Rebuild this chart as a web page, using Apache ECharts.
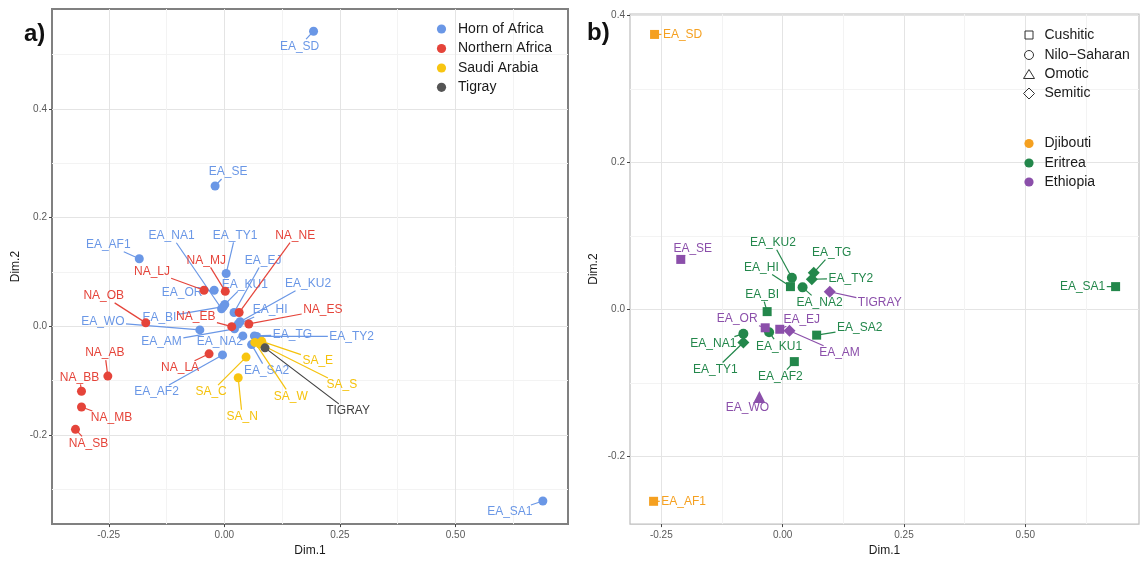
<!DOCTYPE html>
<html>
<head>
<meta charset="utf-8">
<script src="https://cdn.jsdelivr.net/npm/echarts@6/dist/echarts.min.js"></script>
<style>
html,body{margin:0;padding:0;background:#fff;}
#chart{width:1142px;height:562px;}
</style>
</head>
<body>
<div id="chart"></div>
<script>
// ---------------- DATA: panel a ----------------
const namesA = ['EA_SD','EA_SE','EA_AF1','EA_TY1','EA_NA1','EA_OR','EA_EJ','EA_KU1','EA_KU2','EA_BI','EA_HI','EA_WO','EA_AM','EA_NA2','EA_TG','EA_TY2','EA_SA2','EA_AF2','EA_SA1',
                'NA_NE','NA_MJ','NA_LJ','NA_OB','NA_EB','NA_ES','NA_AB','NA_LA','NA_BB','NA_MB','NA_SB',
                'SA_E','SA_S','SA_W','SA_C','SA_N',
                'TIGRAY'];
const groupA = ['Horn of Africa','Horn of Africa','Horn of Africa','Horn of Africa','Horn of Africa','Horn of Africa','Horn of Africa','Horn of Africa','Horn of Africa','Horn of Africa','Horn of Africa','Horn of Africa','Horn of Africa','Horn of Africa','Horn of Africa','Horn of Africa','Horn of Africa','Horn of Africa','Horn of Africa',
                'Northern Africa','Northern Africa','Northern Africa','Northern Africa','Northern Africa','Northern Africa','Northern Africa','Northern Africa','Northern Africa','Northern Africa','Northern Africa',
                'Saudi Arabia','Saudi Arabia','Saudi Arabia','Saudi Arabia','Saudi Arabia',
                'Tigray'];
const dim1A = [0.193,-0.020,-0.184,0.004,-0.006,-0.022,0.021,0.001,0.034,-0.002,0.030,-0.053,0.022,0.040,0.065,0.070,0.059,-0.004,0.689,
               0.032,0.002,-0.044,-0.170,0.016,0.053,-0.252,-0.033,-0.309,-0.309,-0.322,
               0.081,0.077,0.066,0.047,0.030,
               0.088];
const dim2A = [0.543,0.258,0.124,0.097,0.032,0.066,0.025,0.040,0.008,0.036,0.004,-0.007,-0.005,-0.018,-0.018,-0.019,-0.034,-0.053,-0.322,
               0.025,0.064,0.066,0.006,-0.001,0.004,-0.092,-0.051,-0.120,-0.149,-0.190,
               -0.028,-0.033,-0.030,-0.057,-0.095,
               -0.040];
const groupsA = ['Horn of Africa','Northern Africa','Saudi Arabia','Tigray'];

// ---------------- DATA: panel b ----------------
const namesB = ['EA_SD','EA_AF1','EA_SA1','EA_SE','EA_KU2','EA_HI','EA_TG','EA_TY2','EA_NA2','TIGRAY','EA_BI','EA_OR','EA_KU1','EA_EJ','EA_AM','EA_SA2','EA_NA1','EA_TY1','EA_AF2','EA_WO'];
const countryB = ['Djibouti','Djibouti','Eritrea','Ethiopia','Eritrea','Eritrea','Eritrea','Eritrea','Eritrea','Ethiopia','Eritrea','Ethiopia','Eritrea','Ethiopia','Ethiopia','Eritrea','Eritrea','Eritrea','Eritrea','Ethiopia'];
const familyB = ['Cushitic','Cushitic','Cushitic','Cushitic','Nilo−Saharan','Cushitic','Semitic','Semitic','Nilo−Saharan','Semitic','Cushitic','Cushitic','Nilo−Saharan','Cushitic','Semitic','Cushitic','Nilo−Saharan','Semitic','Cushitic','Omotic'];
const dim1B = [-0.264,-0.266,0.686,-0.210,0.019,0.016,0.064,0.060,0.041,0.097,-0.032,-0.036,-0.028,-0.006,0.014,0.070,-0.081,-0.081,0.024,-0.048];
const dim2B = [0.374,-0.261,0.031,0.068,0.043,0.031,0.050,0.041,0.030,0.024,-0.003,-0.025,-0.031,-0.027,-0.029,-0.035,-0.033,-0.045,-0.071,-0.119];
const familiesB = ['Cushitic','Nilo−Saharan','Omotic','Semitic'];
const countriesB = ['Djibouti','Eritrea','Ethiopia'];

// ---------------- tick values ----------------
const xMajor = [-0.25, 0, 0.25, 0.5];
const xMinor = [-0.125, 0.125, 0.375, 0.625];
const yMajorA = [-0.2, 0, 0.2, 0.4];
const yMinorA = [-0.3, -0.1, 0.1, 0.3, 0.5];
const yMajorB = [-0.2, 0, 0.2, 0.4];
const yMinorB = [-0.1, 0.1, 0.3];

// ---------------- layout / style ----------------
const colorA = {'Horn of Africa':'#6A97E6','Northern Africa':'#E5443A','Saudi Arabia':'#F8C511','Tigray':'#555555'};
const colorB = {'Djibouti':'#F5A020','Eritrea':'#23874B','Ethiopia':'#8B4FAA'};
const symbolB = {'Cushitic':'rect','Nilo−Saharan':'circle','Omotic':'triangle','Semitic':'diamond'};
const symSizeB = {'Cushitic':9,'Nilo−Saharan':10,'Omotic':12,'Semitic':12};
// label offsets (px) from point to label centre
const offA = {EA_SD:[-14,15],EA_SE:[13,-14],EA_AF1:[-31,-14],EA_TY1:[9,-38],EA_NA1:[-50,-73],EA_OR:[-32,2],EA_EJ:[29,-52],EA_KU1:[20,-20],EA_KU2:[68,-38],EA_BI:[-64,11],EA_HI:[32,-14],EA_WO:[-97,-8],EA_AM:[-73,13],EA_NA2:[-23,6],EA_TG:[38,-1],EA_TY2:[95,0],EA_SA2:[15,26],EA_AF2:[-66,37],EA_SA1:[-33,11],
  NA_NE:[56,-77],NA_MJ:[-19,-31],NA_LJ:[-52,-19],NA_OB:[-42,-27],NA_EB:[-36,-10],NA_ES:[74,-14],NA_AB:[-3,-23],NA_LA:[-29,14],NA_BB:[-2,-14],NA_MB:[30,11],NA_SB:[13,14],
  SA_E:[56,19],SA_S:[82,41],SA_W:[36,54],SA_C:[-35,35],SA_N:[4,39],TIGRAY:[83,63]};
const offB = {EA_SD:[28,0],EA_AF1:[30,0],EA_SA1:[-33,0],EA_SE:[12,-11],EA_KU2:[-19,-35],EA_HI:[-29,-19],EA_TG:[18,-20],EA_TY2:[39,-1],EA_NA2:[17,15],TIGRAY:[50,11],EA_BI:[-5,-17],EA_OR:[-28,-9],EA_KU1:[10,14],EA_EJ:[22,-10],EA_AM:[50,22],EA_SA2:[43,-7],EA_NA1:[-30,10],EA_TY1:[-28,27],EA_AF2:[-14,15],EA_WO:[-12,11]};

const LABEL_FONT = '12px "Liberation Sans", Arial, sans-serif';
const mctx = document.createElement('canvas').getContext('2d');
function textW(s){ mctx.font = LABEL_FONT; return mctx.measureText(s).width; }

function labelRenderer(names, colors, offsets){
  return function(params, api){
    const i = api.value(2);
    const p = api.coord([api.value(0), api.value(1)]);
    const name = names[i];
    const off = offsets[name] || [0,0];
    const cx = p[0] + off[0], cy = p[1] + off[1];
    const hw = textW(name)/2 + 1.5, hh = 7;
    const children = [];
    const dx = p[0]-cx, dy = p[1]-cy;
    if (Math.abs(dx) > hw || Math.abs(dy) > hh) {
      const t = Math.min(dx !== 0 ? hw/Math.abs(dx) : Infinity, dy !== 0 ? hh/Math.abs(dy) : Infinity);
      const ex = cx + dx*t, ey = cy + dy*t;
      if (Math.hypot(p[0]-ex, p[1]-ey) > 3) {
        children.push({type:'line', shape:{x1:p[0],y1:p[1],x2:ex,y2:ey}, style:{stroke:colors[i], lineWidth:1.2}});
      }
    }
    children.push({type:'text', style:{text:name, x:cx, y:cy, fill:colors[i], font:LABEL_FONT, align:'center', verticalAlign:'middle', textAlign:'center', textVerticalAlign:'middle'}});
    return {type:'group', children};
  };
}

const labelColorsA = groupA.map(g => g === 'Tigray' ? '#3f3f3f' : (g === 'Saudi Arabia' ? '#F5C20C' : colorA[g]));
const labelColorsB = countryB.map(c => colorB[c]);

const axisLabelStyle = {fontSize:10, color:'#5a5a5a', fontFamily:'"Liberation Sans", Arial, sans-serif'};
const nameStyle = {fontSize:12, color:'#1a1a1a', fontFamily:'"Liberation Sans", Arial, sans-serif'};
const MAJOR = '#e4e4e4', MINOR = '#f3f3f3';

function mainX(grid, min, max, majors){
  return {type:'value', gridIndex:grid, min, max, position:'bottom',
    axisLine:{show:false, onZero:false},
    axisTick:{show:true, length:3, customValues:majors, lineStyle:{color:'#444'}},
    axisLabel:Object.assign({customValues:majors, margin:6, formatter:v => v.toFixed(2)}, axisLabelStyle),
    splitLine:{show:true, lineStyle:{color:MAJOR, width:1}},
    name:'Dim.1', nameLocation:'middle', nameGap:19, nameTextStyle:nameStyle};
}
function minorX(grid, min, max, minors){
  return {type:'value', gridIndex:grid, min, max, position:'top',
    axisLine:{show:false, onZero:false}, axisLabel:{show:false},
    axisTick:{show:false, length:0, customValues:minors, lineStyle:{color:'rgba(0,0,0,0)'}},
    splitLine:{show:true, lineStyle:{color:MINOR, width:1}}};
}
function mainY(grid, min, max, majors){
  return {type:'value', gridIndex:grid, min, max, position:'left',
    axisLine:{show:false, onZero:false},
    axisTick:{show:true, length:3, customValues:majors, lineStyle:{color:'#444'}},
    axisLabel:Object.assign({customValues:majors, margin:5, formatter:v => v.toFixed(1)}, axisLabelStyle),
    splitLine:{show:true, lineStyle:{color:MAJOR, width:1}},
    name:'Dim.2', nameLocation:'middle', nameGap:30, nameTextStyle:nameStyle};
}
function minorY(grid, min, max, minors){
  return {type:'value', gridIndex:grid, min, max, position:'right',
    axisLine:{show:false, onZero:false}, axisLabel:{show:false},
    axisTick:{show:false, length:0, customValues:minors, lineStyle:{color:'rgba(0,0,0,0)'}},
    splitLine:{show:true, lineStyle:{color:MINOR, width:1}}};
}

const A = {xmin:-0.3728, xmax:0.7434, ymin:-0.3645, ymax:0.5839};
const B = {xmin:-0.3146, xmax:0.7342, ymin:-0.2920, ymax:0.4018};

const series = [];
groupsA.forEach(g => {
  const d = [];
  namesA.forEach((n,i) => { if (groupA[i] === g) d.push([dim1A[i], dim2A[i], i]); });
  series.push({type:'scatter', name:g, xAxisIndex:0, yAxisIndex:0, data:d, symbol:'circle', symbolSize:9,
    itemStyle:{color:colorA[g], opacity:1}, z:4, clip:false, silent:true});
});
series.push({type:'custom', xAxisIndex:0, yAxisIndex:0, z:3, clip:false, silent:true,
  data: namesA.map((n,i) => [dim1A[i], dim2A[i], i]),
  renderItem: labelRenderer(namesA, labelColorsA, offA)});
countriesB.forEach(c => {
  const d = [];
  namesB.forEach((n,i) => { if (countryB[i] === c) d.push({value:[dim1B[i], dim2B[i], i], symbol:symbolB[familyB[i]], symbolSize:symSizeB[familyB[i]]}); });
  series.push({type:'scatter', name:c, xAxisIndex:2, yAxisIndex:2, data:d,
    itemStyle:{color:colorB[c], opacity:1}, z:4, clip:false, silent:true});
});
series.push({type:'custom', xAxisIndex:2, yAxisIndex:2, z:3, clip:false, silent:true,
  data: namesB.map((n,i) => [dim1B[i], dim2B[i], i]),
  renderItem: labelRenderer(namesB, labelColorsB, offB)});

const LEG_FONT = '14px "Liberation Sans", Arial, sans-serif';
const graphic = [];
graphic.push({type:'text', left:24, top:22, style:{text:'a)', font:'bold 24px "Liberation Sans", Arial, sans-serif', fill:'#111'}, z:10});
graphic.push({type:'text', left:587, top:21, style:{text:'b)', font:'bold 24px "Liberation Sans", Arial, sans-serif', fill:'#111'}, z:10});
const legAY = [29, 48.5, 68, 87.3];
groupsA.forEach((g,k) => {
  graphic.push({type:'circle', shape:{cx:441.5, cy:legAY[k], r:4.6}, style:{fill:colorA[g]}, z:10});
  graphic.push({type:'text', x:458, y:legAY[k], style:{text:g, font:LEG_FONT, fill:'#1a1a1a', verticalAlign:'middle', textVerticalAlign:'middle'}, z:10});
});
const legBY = [35, 55, 74.5, 93.5];
const sx = 1029;
const shapeStroke = {fill:'none', stroke:'#333', lineWidth:1};
graphic.push({type:'rect', shape:{x:sx-4, y:legBY[0]-4, width:8, height:8}, style:shapeStroke, z:10});
graphic.push({type:'circle', shape:{cx:sx, cy:legBY[1], r:4.5}, style:shapeStroke, z:10});
graphic.push({type:'polygon', shape:{points:[[sx,legBY[2]-5],[sx+5.5,legBY[2]+4],[sx-5.5,legBY[2]+4]]}, style:shapeStroke, z:10});
graphic.push({type:'polygon', shape:{points:[[sx,legBY[3]-5.5],[sx+5.5,legBY[3]],[sx,legBY[3]+5.5],[sx-5.5,legBY[3]]]}, style:shapeStroke, z:10});
familiesB.forEach((f,k) => {
  graphic.push({type:'text', x:1044.5, y:legBY[k], style:{text:f, font:LEG_FONT, fill:'#1a1a1a', verticalAlign:'middle', textVerticalAlign:'middle'}, z:10});
});
const legCY = [143.5, 163, 182];
countriesB.forEach((c,k) => {
  graphic.push({type:'circle', shape:{cx:sx, cy:legCY[k], r:4.6}, style:{fill:colorB[c]}, z:10});
  graphic.push({type:'text', x:1044.5, y:legCY[k], style:{text:c, font:LEG_FONT, fill:'#1a1a1a', verticalAlign:'middle', textVerticalAlign:'middle'}, z:10});
});

const option = {
  animation:false,
  backgroundColor:'#fff',
  grid:[
    {left:52, top:9, width:516, height:523, show:true, borderColor:'#808080', borderWidth:2, backgroundColor:'#fff'},
    {left:630, top:14, width:509, height:518, show:true, borderColor:'#bdbdbd', borderWidth:1.2, backgroundColor:'#fff'}
  ],
  xAxis:[ mainX(0, A.xmin, A.xmax, xMajor), minorX(0, A.xmin, A.xmax, xMinor),
          mainX(1, B.xmin, B.xmax, xMajor), minorX(1, B.xmin, B.xmax, xMinor) ],
  yAxis:[ mainY(0, A.ymin, A.ymax, yMajorA), minorY(0, A.ymin, A.ymax, yMinorA),
          mainY(1, B.ymin, B.ymax, yMajorB), minorY(1, B.ymin, B.ymax, yMinorB) ],
  series,
  graphic
};
const chart = echarts.init(document.getElementById('chart'), null, {renderer:'canvas'});
chart.setOption(option);
</script>
</body>
</html>
